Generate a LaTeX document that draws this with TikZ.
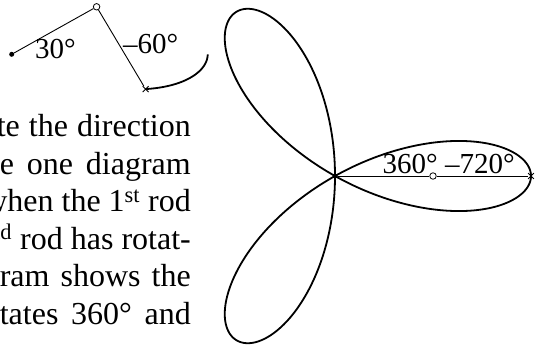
\documentclass[tikz,border=0pt]{standalone}
\usepackage{fontspec}
\setmainfont{Liberation Serif}
\usetikzlibrary{shapes.misc}
\begin{document}
\begin{tikzpicture}[x=1pt,y=-1pt,
  rod/.style={line width=0.9pt},
  curve/.style={line width=1.8pt},
  lbl/.style={inner sep=0pt, anchor=base west, font=\fontsize{29}{34}\selectfont},
  bodyline/.style={inner sep=0pt, anchor=base east, font=\fontsize{32}{38}\selectfont},
  joint/.style={circle, draw, fill=white, line width=0.8pt, inner sep=0pt, minimum size=6.5pt},
  pivot/.style={circle, fill, inner sep=0pt, minimum size=5pt},
  endmark/.style={cross out, draw, line width=0.8pt, inner sep=0pt, minimum size=5pt}
]
\useasboundingbox (0,0) rectangle (538,345);
\begin{scope}
\clip (0,0) rectangle (538,345);
% paragraph fragment
\node[bodyline] (l1) at (191,136.5) {\makebox[194pt][s]{te the direction}};
\node[bodyline] (l2) at (191,174) {\makebox[191pt][s]{e one diagram}};
\node[bodyline] (l3) at (191,211.5) {when the 1\textsuperscript{st} rod};
\node[bodyline] (l4) at (191,249) {\textsuperscript{nd} rod has rotat-};
\node[bodyline] (l5) at (191,286.5) {\makebox[191pt][s]{ram shows the}};
\node[bodyline] (l6) at (191,324) {\makebox[191pt][s]{tates 360° and}};

% small diagram
\node[pivot] (p) at (11.7,54.3) {};
\node[joint] (j) at (96.6,6.8) {};
\node[endmark] (e) at (145.6,89.1) {};
\draw[rod] (p) -- (j) -- (e);
\draw[curve] plot[domain=0:30, samples=40, smooth, variable=\t]
  ({11.7+98*(cos(\t)+cos(2*\t))},{54.3-95*(sin(\t)-sin(2*\t))});
\node[lbl] (a1) at (35,59) {30°};
\node[lbl] (a2) at (123,53) {–60°};

% main diagram
\draw[curve] plot[domain=0:360, samples=361, smooth, variable=\t]
  ({335+98*(cos(\t)+cos(2*\t))},{176-95*(sin(\t)-sin(2*\t))});
\node[pivot] (o) at (335,176) {};
\node[joint] (m) at (433,176) {};
\node[endmark] (t) at (531,176) {};
\draw[rod] (o) -- (m) -- (t);
\node[lbl, anchor=base east] (b1) at (438,173) {360°};
\node[lbl] (b2) at (445,173) {–720°};
\end{scope}
\end{tikzpicture}
\end{document}
